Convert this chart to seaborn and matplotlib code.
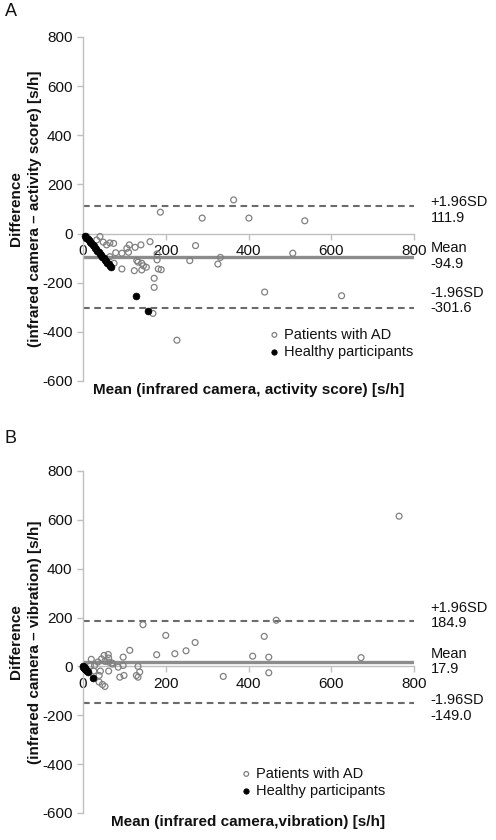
import matplotlib
matplotlib.use("Agg")
import matplotlib.pyplot as plt
import matplotlib.transforms as mtransforms
import seaborn as sns
import pandas as pd

# ---------------- data ----------------
# Panel A: infrared camera vs activity score
ad_a_x = [9, 41, 33, 57, 74, 79, 94, 112, 106, 110, 126, 140, 162, 65, 75, 94, 124,
          130, 133, 142, 146, 142, 153, 179, 179, 182, 189, 172, 172, 169, 227, 187,
          288, 364, 401, 258, 272, 326, 332, 536, 507, 439, 625, 49, 65]
ad_a_y = [-12, -12, -26, -46, -40, -78, -80, -46, -60, -76, -56, -46, -33, -94, -121,
          -144, -151, -110, -116, -121, -131, -148, -137, -83, -107, -144, -147, -182,
          -219, -325, -434, 87, 63, 137, 63, -110, -49, -124, -97, 52, -80, -238, -253,
          -35, -38]
hp_a_x = [5, 8, 11, 14, 17, 20, 23, 26, 29, 32, 35, 38, 41, 44, 47, 50, 53, 56, 59,
          62, 65, 68, 128, 158]
hp_a_y = [-10, -16, -22, -28, -34, -40, -46, -52, -58, -64, -70, -76, -82, -88, -94,
          -100, -106, -112, -118, -124, -130, -136, -256, -316]
stats_a = [111.9, -94.9, -301.6]   # +1.96SD, mean, -1.96SD

# Panel B: infrared camera vs vibration
ad_b_x = [145, 200, 271, 249, 222, 178, 410, 113, 97, 97, 85, 89, 99, 133, 129, 137,
          133, 339, 467, 438, 449, 449, 672, 764, 20, 28, 36, 45, 51, 61, 62, 53, 62,
          70, 71, 26, 42, 39, 39, 47, 53, 62, 18]
ad_b_y = [171, 127, 98, 64, 52, 48, 42, 66, 38, 4, -3, -44, -37, 0, -37, -23, -44,
          -41, 189, 123, 38, -26, 36, 615, 29, 4, 18, 31, 45, 49, 34, 21, 18, 14, 10,
          -19, -19, -37, -64, -74, -82, -19, 4]
hp_b_x = [0, 1, 2, 3, 4, 5, 6, 8, 10, 12, 24]
hp_b_y = [0, -2, -4, -6, -8, -10, -12, -16, -20, -24, -48]
stats_b = [184.9, 17.9, -149.0]

x_ticks = [0, 200, 400, 600, 800]
y_ticks = [-600, -400, -200, 0, 200, 400, 600, 800]

panels = [
    dict(letter="A", ad_x=ad_a_x, ad_y=ad_a_y, hp_x=hp_a_x, hp_y=hp_a_y, stats=stats_a,
         xlabel="Mean (infrared camera, activity score) [s/h]",
         ylabel="Difference\n(infrared camera \u2013 activity score) [s/h]",
         text_y=[96, -90, -273], leg=(0.565, 0.11)),
    dict(letter="B", ad_x=ad_b_x, ad_y=ad_b_y, hp_x=hp_b_x, hp_y=hp_b_y, stats=stats_b,
         xlabel="Mean (infrared camera,vibration) [s/h]",
         ylabel="Difference\n(infrared camera \u2013 vibration) [s/h]",
         text_y=[209, 20, -170], leg=(0.48, 0.09)),
]

# ---------------- style ----------------
sns.set_theme(style="white")
plt.rcParams["font.family"] = ["Liberation Sans", "DejaVu Sans"]
plt.rcParams["axes.unicode_minus"] = False

W, H = 496, 840
fig = plt.figure(figsize=(W / 100, H / 100), dpi=100)
axes_px = [(83, 37, 414, 381), (83, 471, 414, 813)]
letters_px = [(5, 12), (5, 438)]

spine_c = "#bfbfbf"
for p, (l, t, r, b), (lx, ly) in zip(panels, axes_px, letters_px):
    ax = fig.add_axes([l / W, 1 - b / H, (r - l) / W, (b - t) / H])
    dfa = pd.DataFrame({"x": p["ad_x"], "y": p["ad_y"]})
    dfh = pd.DataFrame({"x": p["hp_x"], "y": p["hp_y"]})

    # reference lines
    ax.axhline(p["stats"][0], color="#6b6b6b", lw=1.5, dashes=(3.2, 2.2), zorder=1)
    ax.axhline(p["stats"][2], color="#6b6b6b", lw=1.5, dashes=(3.2, 2.2), zorder=1)
    ax.axhline(p["stats"][1], color="#8c8c8c", lw=2.4, zorder=1)

    sns.scatterplot(data=dfa, x="x", y="y", ax=ax, marker="o", s=18,
                    label="Patients with AD", zorder=3, clip_on=False)
    sns.scatterplot(data=dfh, x="x", y="y", ax=ax, marker="o", s=24,
                    color="black", label="Healthy participants", zorder=4, clip_on=False)
    coll = ax.collections[0]
    coll.set_facecolor("none")
    coll.set_edgecolor("#808080")
    coll.set_linewidth(0.9)
    ax.collections[1].set_edgecolor("black")
    ax.collections[1].set_linewidth(0.5)

    ax.set_xlim(0, 800)
    ax.set_ylim(-600, 800)
    ax.set_xticks(x_ticks)
    ax.set_yticks(y_ticks)
    ax.set_xticklabels([str(v) for v in x_ticks])
    ax.set_yticklabels([str(v) for v in y_ticks])

    for s in ["top", "right"]:
        ax.spines[s].set_visible(False)
    ax.spines["bottom"].set_position(("data", 0))
    for s in ["left", "bottom"]:
        ax.spines[s].set_color(spine_c)
        ax.spines[s].set_linewidth(1.0)
    ax.tick_params(axis="both", which="major", direction="out", length=4.5, width=1,
                   color=spine_c, labelsize=11, labelcolor="#111111", pad=3,
                   left=True, bottom=True)

    ax.set_xlabel(p["xlabel"], fontsize=11, fontweight="bold", color="#111111")
    ax.xaxis.set_label_coords(0.5, -0.005)
    ax.set_ylabel(p["ylabel"], fontsize=11, fontweight="bold", color="#111111",
                  linespacing=1.4)
    ax.yaxis.set_label_coords(-0.125, 0.5)

    trans = mtransforms.blended_transform_factory(ax.transAxes, ax.transData)
    labels = ["+1.96SD\n%.1f" % p["stats"][0], "Mean\n%.1f" % p["stats"][1],
              "-1.96SD\n%.1f" % p["stats"][2]]
    for txt, ty in zip(labels, p["text_y"]):
        ax.text(1.05, ty, txt, transform=trans, ha="left", va="center",
                fontsize=10.5, color="#111111", linespacing=1.15)

    leg = ax.legend(loc="center left", bbox_to_anchor=p["leg"], frameon=False,
                    fontsize=10.5, handlelength=0.6, handletextpad=0.35,
                    labelspacing=0.2, borderpad=0, borderaxespad=0, markerscale=0.8)
    for t_ in leg.get_texts():
        t_.set_color("#111111")

    fig.text(lx / W, 1 - ly / H, p["letter"], ha="left", va="center", fontsize=13,
             color="#111111")

fig.savefig("out.png", dpi=100)
